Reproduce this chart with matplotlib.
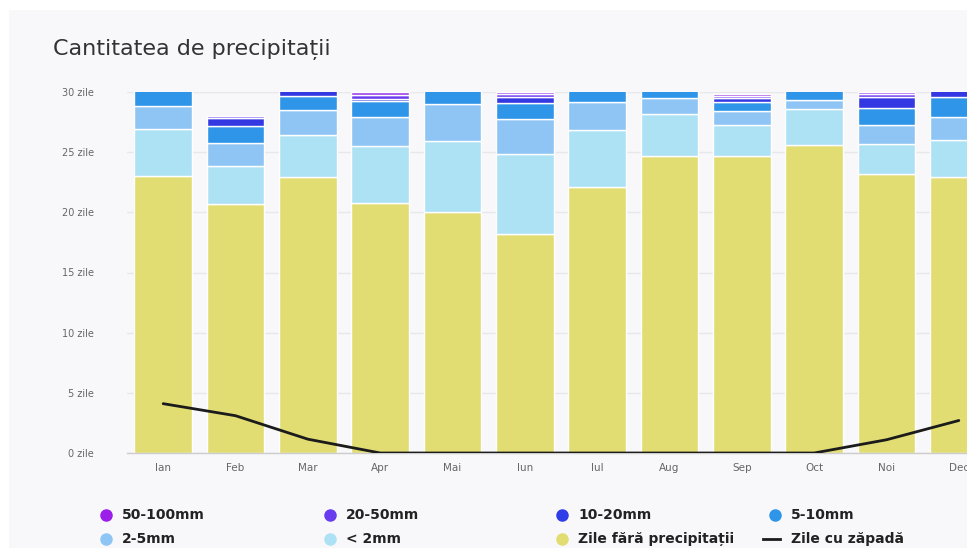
import matplotlib
matplotlib.use("Agg")
import matplotlib.pyplot as plt
from matplotlib.lines import Line2D
from matplotlib.patches import Rectangle
import numpy as np

months = ["Ian", "Feb", "Mar", "Apr", "Mai", "Iun", "Iul", "Aug", "Sep", "Oct", "Noi", "Dec"]

dry      = [23.0, 20.7, 22.9, 20.75, 20.05, 18.2, 22.1, 24.7, 24.7, 25.6, 23.15, 22.9]
lt2      = [3.9, 3.15, 3.5, 4.8, 5.85, 6.65, 4.75, 3.5, 2.55, 2.95, 2.55, 3.1]
mm2_5    = [1.9, 1.9, 2.1, 2.4, 3.1, 2.9, 2.35, 1.3, 1.2, 0.8, 1.55, 1.9]
mm5_10   = [2.2, 1.4, 1.2, 1.3, 2.0, 1.35, 1.8, 1.5, 0.7, 1.65, 1.45, 1.7]
mm10_20  = [0.0, 0.7, 1.3, 0.2, 0.0, 0.45, 0.0, 0.0, 0.35, 0.0, 0.9, 1.4]
mm20_50  = [0.0, 0.15, 0.0, 0.3, 0.0, 0.25, 0.0, 0.0, 0.15, 0.0, 0.2, 0.0]
mm50_100 = [0.0, 0.0, 0.0, 0.25, 0.0, 0.2, 0.0, 0.0, 0.2, 0.0, 0.2, 0.0]
snow     = [4.1, 3.1, 1.15, 0.0, 0.0, 0.0, 0.0, 0.0, 0.0, 0.0, 1.1, 2.7]

yticks = [0, 5, 10, 15, 20, 25, 30]
ytick_labels = [f"{v} zile" for v in yticks]

series = [
    ("Zile fără precipitații", dry, "#e2dd72"),
    ("< 2mm", lt2, "#ade2f5"),
    ("2-5mm", mm2_5, "#8ec5f4"),
    ("5-10mm", mm5_10, "#2f95e8"),
    ("10-20mm", mm10_20, "#3438e2"),
    ("20-50mm", mm20_50, "#6a3cf0"),
    ("50-100mm", mm50_100, "#9b3ee8"),
]

W, H = 967, 548
fig = plt.figure(figsize=(W / 100, H / 100), dpi=100)
fig.patch.set_facecolor("white")
fig.add_artist(Rectangle((9 / W, 0), 1, 1 - 10 / H, transform=fig.transFigure,
                         facecolor="#f8f8fa", edgecolor="none", zorder=-10))

left, right, top, bottom = 127, 995, 92, 453
ax = fig.add_axes([left / W, 1 - bottom / H, (right - left) / W, (bottom - top) / H])
ax.set_facecolor("none")

x = np.arange(len(months))
base = np.zeros(len(months))
for name, vals, col in series:
    v = np.array(vals)
    ax.bar(x, v, 0.8, bottom=base, color=col, edgecolor="white", linewidth=1.0, zorder=2)
    base += v

ax.plot(x, snow, color="#1b1b1b", linewidth=2, zorder=3, solid_capstyle="round")

ax.set_xlim(-0.5, 11.5)
ax.set_ylim(0, 30)
ax.set_yticks(yticks)
ax.set_yticklabels(ytick_labels)
ax.set_xticks(x)
ax.set_xticklabels(months)
ax.tick_params(axis="y", length=0, pad=24, labelsize=7, labelcolor="#666666")
ax.tick_params(axis="x", length=0, pad=7, labelsize=7.5, labelcolor="#666666")
ax.grid(axis="y", color="#e8e8ec", linewidth=1, zorder=0)
ax.set_axisbelow(True)
for s in ["top", "right", "left"]:
    ax.spines[s].set_visible(False)
ax.spines["bottom"].set_color("#cccccc")
ax.spines["bottom"].set_linewidth(1)

fig.text(53 / W, 1 - 49 / H, "Cantitatea de precipitații", fontsize=16,
         family="DejaVu Sans", color="#333333", va="center", ha="left")

legend_items = [
    ("50-100mm", "#9b1fe8", 106, 515, "dot"),
    ("20-50mm", "#6a3cf0", 330, 515, "dot"),
    ("10-20mm", "#2f3de8", 562, 515, "dot"),
    ("5-10mm", "#2f95e8", 775, 515, "dot"),
    ("2-5mm", "#8ec5f4", 106, 539, "dot"),
    ("< 2mm", "#ade2f5", 330, 539, "dot"),
    ("Zile fără precipitații", "#e2dd72", 562, 539, "dot"),
    ("Zile cu zăpadă", "#1b1b1b", 775, 539, "line"),
]
for label, col, px, py, kind in legend_items:
    fy = 1 - py / H
    if kind == "dot":
        fig.add_artist(Line2D([px / W], [fy], marker="o", markersize=8, color=col,
                              linestyle="none", transform=fig.transFigure))
    else:
        fig.add_artist(Line2D([(px - 12) / W, (px + 5) / W], [fy, fy], color=col,
                              linewidth=2, transform=fig.transFigure))
    fig.text((px + 16) / W, fy, label, fontsize=10, fontweight="bold",
             color="#222222", va="center", ha="left")

fig.savefig("out.png", dpi=100)
